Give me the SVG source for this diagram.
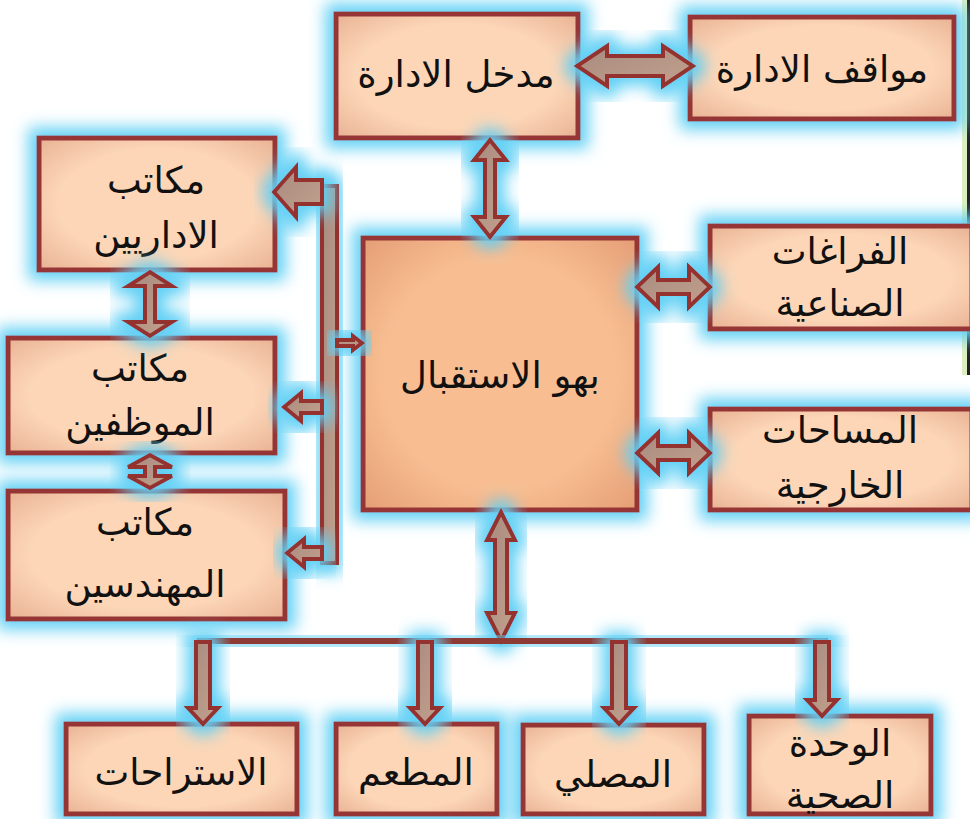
<svg xmlns="http://www.w3.org/2000/svg" width="970" height="819" viewBox="0 0 970 819">
<defs>
<style>
.box{fill:url(#bf);stroke:#963634;stroke-width:5;filter:url(#glow)}
.cbox{fill:url(#cf);stroke:#963634;stroke-width:5;filter:url(#glow)}
.t{font-family:"DejaVu Sans","Noto Sans",sans-serif;font-size:37px;fill:#111;text-anchor:middle;direction:rtl}
.ar{fill:url(#af);stroke:#93302E;stroke-width:4;stroke-linejoin:miter;filter:url(#glow)}
</style>
<radialGradient id="bf" cx="50%" cy="50%" r="70%">
<stop offset="0.6" stop-color="#FCD6B7"/>
<stop offset="1" stop-color="#E9B294"/>
</radialGradient>
<radialGradient id="cf" cx="50%" cy="50%" r="70%">
<stop offset="0.6" stop-color="#F8BE92"/>
<stop offset="1" stop-color="#E59E76"/>
</radialGradient>
<linearGradient id="af" x1="0" y1="0" x2="1" y2="1">
<stop offset="0" stop-color="#A88B80"/>
<stop offset="1" stop-color="#C2A08C"/>
</linearGradient>
<filter id="glow" x="-40%" y="-40%" width="180%" height="180%">
<feMorphology in="SourceAlpha" operator="dilate" radius="8" result="d"/>
<feGaussianBlur in="d" stdDeviation="8" result="b"/>
<feFlood flood-color="#62D0F5"/>
<feComposite in2="b" operator="in" result="g"/>
<feMerge><feMergeNode in="g"/><feMergeNode in="SourceGraphic"/></feMerge>
</filter>
</defs>
<rect width="970" height="819" fill="#FFFFFF"/>
<rect x="962" y="0" width="5" height="375" fill="#DDEFC0"/>
<rect x="967" y="0" width="3" height="375" fill="#222"/>

<g id="n-madkhal"><rect class="box" x="336" y="14" width="242" height="124"/><text class="t" x="456" y="87">مدخل الادارة</text></g>
<g id="n-mawaqif"><rect class="box" x="690" y="17" width="264" height="102"/><text class="t" x="822" y="82">مواقف الادارة</text></g>
<g id="n-bahw"><rect class="cbox" x="363" y="238" width="274" height="272"/><text class="t" x="500" y="388">بهو الاستقبال</text></g>
<g id="n-faraghat"><rect class="box" x="710" y="226" width="262" height="103"/><text class="t" x="840" y="264">الفراغات</text><text class="t" x="840" y="316">الصناعية</text></g>
<g id="n-masahat"><rect class="box" x="710" y="409" width="262" height="101"/><text class="t" x="840" y="443">المساحات</text><text class="t" x="840" y="498">الخارجية</text></g>
<g id="n-idariyin"><rect class="box" x="39" y="138" width="236" height="132"/><text class="t" x="156" y="193">مكاتب</text><text class="t" x="156" y="248">الاداريين</text></g>
<g id="n-muwazafin"><rect class="box" x="8" y="338" width="267" height="115"/><text class="t" x="140" y="381">مكاتب</text><text class="t" x="140" y="435">الموظفين</text></g>
<g id="n-muhandisin"><rect class="box" x="8" y="491" width="277" height="128"/><text class="t" x="145" y="535">مكاتب</text><text class="t" x="145" y="597">المهندسين</text></g>
<g id="n-istirahat"><rect class="box" x="66" y="724" width="231" height="90"/><text class="t" x="181" y="785">الاستراحات</text></g>
<g id="n-mataam"><rect class="box" x="336" y="724" width="161" height="90"/><text class="t" x="416" y="785">المطعم</text></g>
<g id="n-musalla"><rect class="box" x="523" y="725" width="181" height="89"/><text class="t" x="613" y="787">المصلي</text></g>
<g id="n-wahda"><rect class="box" x="749" y="716" width="182" height="98"/><text class="t" x="840" y="756">الوحدة</text><text class="t" x="840" y="808">الصحية</text></g>

<g id="connectors">
<path class="ar" d="M577,66 L607,46 L607,56 L663,56 L663,46 L693,66 L663,86 L663,76 L607,76 L607,86 Z"/>
<path class="ar" d="M490,140 L506,160 L495,160 L495,217 L506,217 L490,237 L474,217 L485,217 L485,160 L474,160 Z"/>
<path class="ar" d="M637,287 L658,267 L658,280 L689,280 L689,267 L710,287 L689,307 L689,294 L658,294 L658,307 Z"/>
<path class="ar" d="M637,453 L658,433 L658,446 L689,446 L689,433 L710,453 L689,473 L689,460 L658,460 L658,473 Z"/>
<rect class="ar" x="322" y="186" width="15" height="377"/>
<path class="ar" d="M274,192 L296,167 L296,180 L322,180 L322,204 L296,204 L296,217 Z"/>
<path class="ar" d="M284,407 L301,393 L301,401 L322,401 L322,413 L301,413 L301,421 Z"/>
<path class="ar" d="M287,553 L304,539 L304,547 L322,547 L322,559 L304,559 L304,567 Z"/>
<path class="ar" d="M362,343 L353,336 L353,340 L337,340 L337,346 L353,346 L353,350 Z"/>
<path class="ar" d="M150,272 L172,286 L155,286 L155,322 L172,322 L150,336 L128,322 L145,322 L145,286 L128,286 Z"/>
<path class="ar" d="M150,455 L172,467 L155,467 L155,476 L172,476 L150,488 L128,476 L145,476 L145,467 L128,467 Z"/>
<path class="ar" d="M501,512 L515,540 L507,540 L507,613 L515,613 L501,641 L487,613 L495,613 L495,540 L487,540 Z"/>
<rect x="197" y="638" width="631" height="6" fill="#8E3A36" filter="url(#glow)"/>
<path class="ar" d="M196,642 L210,642 L210,708 L218,708 L203,724 L188,708 L196,708 Z"/>
<path class="ar" d="M418,642 L432,642 L432,708 L440,708 L425,724 L410,708 L418,708 Z"/>
<path class="ar" d="M612,642 L626,642 L626,708 L634,708 L619,724 L604,708 L612,708 Z"/>
<path class="ar" d="M815,642 L829,642 L829,700 L837,700 L822,716 L807,700 L815,700 Z"/>
</g>
</svg>
